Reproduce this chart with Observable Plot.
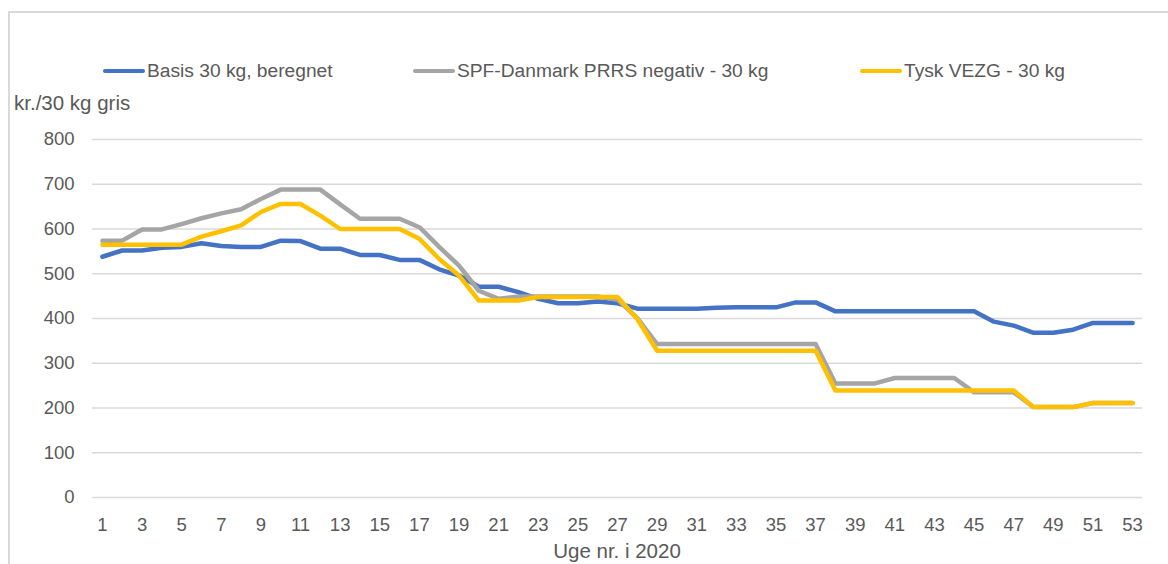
<!DOCTYPE html>
<html>
<head>
<meta charset="utf-8">
<script src="https://cdn.jsdelivr.net/npm/d3@7"></script>
<script src="https://cdn.jsdelivr.net/npm/@observablehq/plot@0.6"></script>
<style>
  html, body { margin: 0; padding: 0; background: #fff; }
  #wrap { position: relative; width: 1168px; height: 564px; overflow: hidden; background: #fff;
          font-family: "Liberation Sans", Arial, sans-serif; color: #595959; }
  .bl { position: absolute; left: 8px; top: 11px; width: 1.5px; height: 560px; background: #d9d9d9; }
  .bt { position: absolute; left: 8px; top: 11px; width: 1170px; height: 1.5px; background: #d9d9d9; }
  .leg { position: absolute; top: 60px; display: flex; align-items: center; font-size: 19.2px; white-space: nowrap; }
  .leg .sw { display: inline-block; width: 42px; height: 4.5px; border-radius: 2px; margin-right: 2px; }
  #ylab { position: absolute; left: 14px; top: 91px; font-size: 20.5px; }
  #xlab { position: absolute; left: 0; width: 1234px; text-align: center; top: 539px; font-size: 20.5px; }
  #chart { position: absolute; left: 0; top: 120px; }
</style>
</head>
<body>
<div id="wrap">
  <div class="bl"></div><div class="bt"></div>
  <div id="legend"></div>
  <div id="ylab">kr./30 kg gris</div>
  <div id="chart"></div>
  <div id="xlab">Uge nr. i 2020</div>
</div>
<script>
const weeks = d3.range(1, 54);
const seriesNames = ["Basis 30 kg, beregnet", "SPF-Danmark PRRS negativ - 30 kg", "Tysk VEZG - 30 kg"];
const seriesColors = ["#4472C4", "#A5A5A5", "#FFC000"];
const basis = [538,552,552,558,560,568,562,560,560,574,573,556,556,542,542,531,531,510,496,471,
  471,459,444,434,434,438,434,422,422,422,422,424,425,425,425,436,436,416,416,416,
  416,416,416,416,416,393,384,368,368,375,390,390,390];
const spf = [574,574,599,599,611,624,635,644,667,688,688,688,655,623,623,623,604,560,518,462,
  444,449,449,449,449,449,442,401,343,343,343,343,343,343,343,343,343,255,255,255,
  267,267,267,267,235,235,235,202,202,202,211,211,211];
const tysk = [565,565,565,565,565,583,595,608,638,656,656,630,600,600,600,600,578,533,496,440,
  440,440,448,448,448,448,448,399,328,328,328,328,328,328,328,328,328,239,239,239,
  239,239,239,239,239,239,239,202,202,202,211,211,211];
const xTicks = d3.range(1, 54, 2);
const yTicks = d3.range(0, 801, 100);

const allSeries = [basis, spf, tysk];
const data = [];
allSeries.forEach((vals, i) => vals.forEach((v, j) => data.push({serie: seriesNames[i], week: weeks[j], value: v})));

// legend
const legendPos = [103, 413, 860];
const legend = document.getElementById("legend");
seriesNames.forEach((n, i) => {
  const d = document.createElement("div");
  d.className = "leg";
  d.style.left = legendPos[i] + "px";
  d.innerHTML = `<span class="sw" style="background:${seriesColors[i]}"></span><span>${n}</span>`;
  legend.appendChild(d);
});

const chart = Plot.plot({
  width: 1168,
  height: 444,
  marginLeft: 92,
  marginRight: 26,
  marginTop: 19,
  marginBottom: 67,
  style: { fontFamily: "'Liberation Sans', Arial, sans-serif", fontSize: "18.5px", color: "#595959", background: "transparent" },
  x: { domain: [0.5, 53.5], ticks: xTicks, tickSize: 0, tickPadding: 20, label: null, tickFormat: d => String(d) },
  y: { domain: [0, 800], ticks: yTicks, tickSize: 0, tickPadding: 18, label: null },
  color: { domain: seriesNames, range: seriesColors },
  marks: [
    Plot.gridY(yTicks, { stroke: "#d9d9d9", strokeOpacity: 1, strokeWidth: 1.5 }),
    Plot.axisX({ ticks: xTicks, tickSize: 0, tickPadding: 20, label: null, fill: "#595959" }),
    Plot.axisY({ ticks: yTicks, tickSize: 0, tickPadding: 18, label: null, fill: "#595959" }),
    Plot.line(data, { x: "week", y: "value", z: "serie", stroke: "serie", strokeWidth: 4.5,
      strokeLinejoin: "round", strokeLinecap: "round" })
  ]
});
document.getElementById("chart").appendChild(chart);
</script>
</body>
</html>
